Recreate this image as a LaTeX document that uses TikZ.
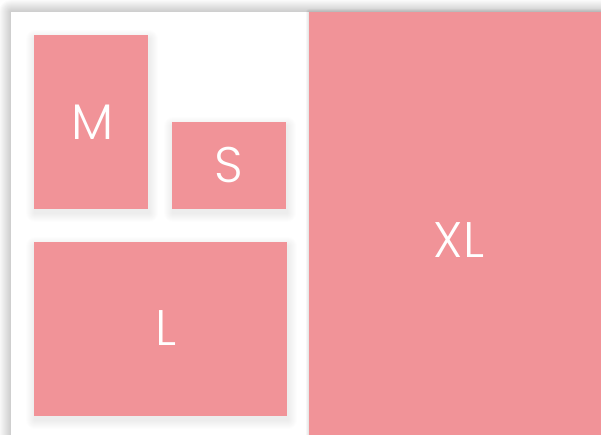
\documentclass[tikz,border=0pt]{standalone}
\usepackage{fontspec}
\setmainfont{Poppins}[UprightFont=* Light]
\definecolor{boxpink}{RGB}{241,147,152}
% soft shadow: x1 y1 x2 y2 steps opacity dx dy
\newcommand\mysoftshadow[8]{%
  \foreach \i in {1,...,#5}{%
    \fill[black, fill opacity=#6, rounded corners=\i pt]
      ($(#1,#2)+(#7-\i,#8-\i)$) rectangle ($(#3,#4)+(#7+\i,#8+\i)$);
  }%
}
\usetikzlibrary{calc}
\tikzset{
  panel/.style={fill=white, draw=none},
  card/.style={fill=boxpink, draw=none},
  lbl/.style={text=white, font=\fontsize{50}{50}\selectfont, inner sep=0pt, anchor=center}
}
\begin{document}
\begin{tikzpicture}[x=1pt,y=-1pt]
\useasboundingbox (0,0) rectangle (601,435);
\fill[white] (0,0) rectangle (601,435);
% panel shadow
\mysoftshadow{11}{12}{640}{480}{12}{0.015}{0}{0}
\path[panel] (11,12) rectangle (640,480);
% card shadows
\mysoftshadow{34}{35}{148}{209}{9}{0.009}{1}{4}
\mysoftshadow{172}{122}{286}{209}{9}{0.009}{1}{4}
\mysoftshadow{34}{242}{287}{416}{9}{0.009}{1}{4}
\mysoftshadow{309}{12}{640}{480}{3}{0.03}{0}{0}
\path[card] (34,35) rectangle (148,209);
\path[card] (172,122) rectangle (286,209);
\path[card] (34,242) rectangle (287,416);
\path[card] (309,12) rectangle (640,480);
\node[lbl] (m) at (92.5,122) {M};
\node[lbl] (s) at (229,165) {S};
\node[lbl] (l) at (166,328.5) {L};
\node[lbl] (xl) at (459,240.5) {XL};
\end{tikzpicture}
\end{document}
